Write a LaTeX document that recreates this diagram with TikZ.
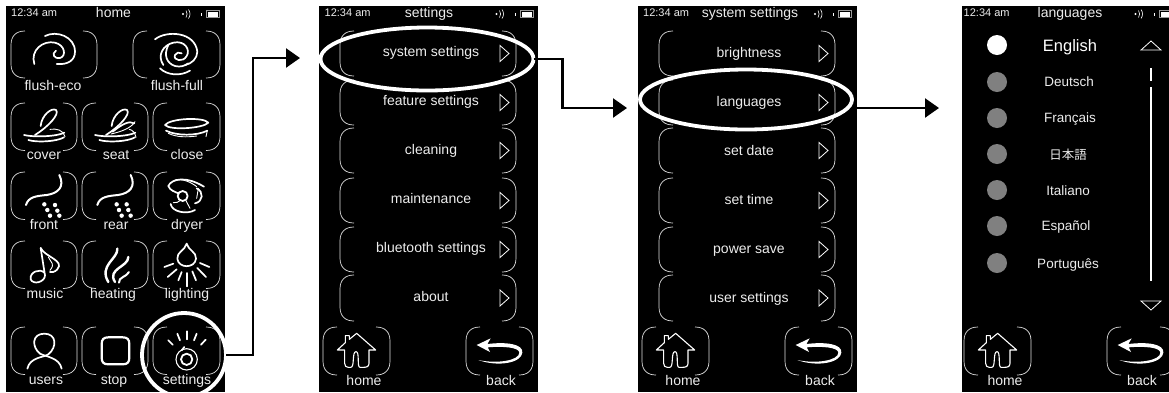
\documentclass[tikz,border=0pt]{standalone}
\usepackage{fontspec}
\setmainfont{Liberation Sans}
\newfontfamily\cjkfont{Noto Sans CJK JP}
\usetikzlibrary{arrows.meta,shapes.geometric}
\definecolor{txt}{HTML}{EDEDED}
\definecolor{dotgray}{HTML}{808080}
\tikzset{
 screen/.style={fill=black,draw=none,inner sep=0,outer sep=0},
 btn/.style={draw=white!88!black,line width=.7pt},
 ico/.style={draw=white,line width=1.7pt,line cap=round,line join=round},
 icothin/.style={draw=white,line width=.9pt,line cap=round,line join=round},
 lab/.style={text=txt,inner sep=0,anchor=base,font=\fontsize{14}{16}\selectfont},
 tim/.style={text=txt,inner sep=0,anchor=base west,font=\fontsize{11}{13}\selectfont},
 eng/.style={text=white,inner sep=0,anchor=base,font=\fontsize{16.5}{18}\selectfont},
 lang/.style={text=txt,inner sep=0,anchor=base,font=\fontsize{13.5}{16}\selectfont},
 ringmark/.style={draw=white,line width=3.8pt,inner sep=0,outer sep=0,ellipse},
 flow/.style={draw=black,line width=2.3pt,-{Triangle[length=14pt,width=19pt]}},
}
\newcommand{\btn}[4]{% x y w h
 \draw[btn] (#1+14,#2) .. controls (#1+5,#2) and (#1,#2+5) .. (#1,#2+14) -- (#1,#2+#4-14) .. controls (#1,#2+#4-5) and (#1+5,#2+#4) .. (#1+14,#2+#4);
 \draw[btn] (#1+#3-14,#2) .. controls (#1+#3-5,#2) and (#1+#3,#2+5) .. (#1+#3,#2+14) -- (#1+#3,#2+#4-14) .. controls (#1+#3,#2+#4-5) and (#1+#3-5,#2+#4) .. (#1+#3-14,#2+#4);
}
\newcommand{\statusbar}[2]{% dx, name
 \node[tim] (#2t) at (#1+11,16.8) {12:34 am};
 \fill[white] (#1+183,14) circle (1.2);
 \draw[white,line width=.6pt] (#1+186,10.5) .. controls (#1+187.5,12.5) and (#1+187.5,15.5) .. (#1+186,17.5);
 \draw[white,line width=.6pt] (#1+188.5,9.5) .. controls (#1+190.5,12) and (#1+190.5,16) .. (#1+188.5,18.5);
 \fill[white] (#1+201.3,13) rectangle (#1+202.3,15.5);
 \draw[white!60!black,line width=.5pt] (#1+206.5,10.5) rectangle (#1+219.5,17.5);
 \fill[white] (#1+208,11.7) rectangle (#1+218,16.5);
}
\newcommand{\tri}[2]{\draw[white,line width=.8pt,line join=miter] (#1,#2-8) -- (#1+9,#2) -- (#1,#2+8) -- cycle;}
\newcommand{\menubtns}[1]{%
 \foreach \ya/\hh in {31/45,80/45,128/45,178/45,227/45,275/46}{
  \btn{340+#1}{\ya}{176}{\hh}
  \tri{500+#1}{\ya+\hh/2}
 }
}
\newcommand{\navbar}[2]{% dx, name
 \btn{323+#1}{327}{67}{48}
 \btn{466+#1}{327}{67}{48}
 \node[lab] (#2h) at (364+#1,385.7) {home};
 \node[lab] (#2b) at (501+#1,385.7) {back};
 \begin{scope}[shift={(310+#1,270)},x=.33333pt,y=-.33333pt]
  \draw[icothin,line width=1.1pt] (104,240) -- (82,240) -- (106,218) -- (106,197) -- (118,197) -- (118,208) -- (140,190) -- (197,240) -- (177,240) -- (177,280) .. controls (177,290) and (170,292) .. (160,292) -- (150,292) .. controls (140,292) and (150,245) .. (138,245) .. controls (125,245) and (135,292) .. (122,292) -- (115,292) .. controls (108,292) and (104,288) .. (104,280) -- cycle;
  \fill[white] (500,225) -- (542,205) -- (532,222) .. controls (590,215) and (640,222) .. (637,248) .. controls (635,278) and (565,292) .. (505,270) .. controls (560,282) and (628,272) .. (628,248) .. controls (628,232) and (580,228) .. (533,232) -- (540,246) -- cycle;
 \end{scope}
}
\begin{document}
\begin{tikzpicture}[x=1pt,y=-1pt]
\useasboundingbox (0,0) rectangle (1169,392);
\clip (0,0) rectangle (1169,392);
\fill[white] (0,0) rectangle (1169,392);
\node[screen,minimum width=219pt,minimum height=386pt] (s1) at (115.5,199) {};
\node[screen,minimum width=219pt,minimum height=386pt] (s2) at (428.5,199) {};
\node[screen,minimum width=219pt,minimum height=386pt] (s3) at (747.5,199) {};
\node[screen,minimum width=219pt,minimum height=386pt] (s4) at (1071.5,199) {};

% ---------- screen 1
\statusbar{0}{a}
\node[lab] (atitle) at (113.5,17.8) {home};
\btn{11}{31}{86}{47}
\btn{133}{31}{87}{47}
\foreach \yy in {103,172,241,327}{
 \btn{11}{\yy}{66}{47.5}
 \btn{82}{\yy}{66}{47.5}
 \btn{153}{\yy}{67}{47.5}
}
\node[lab] (l1) at (53,90.7) {flush-eco};
\node[lab] (l2) at (177,90.7) {flush-full};
\node[lab] (l3) at (44,159.5) {cover};
\node[lab] (l4) at (116,159.5) {seat};
\node[lab] (l5) at (187,159.5) {close};
\node[lab] (l6) at (44,229.7) {front};
\node[lab] (l7) at (116,229.7) {rear};
\node[lab] (l8) at (187,229.7) {dryer};
\node[lab] (l9) at (45,298.7) {music};
\node[lab] (l10) at (113,298.7) {heating};
\node[lab] (l11) at (187,298.7) {lighting};
\node[lab] (l12) at (46,384.7) {users};
\node[lab] (l13) at (114,384.7) {stop};
\node[lab] (l14) at (187,384.7) {settings};

\begin{scope}[x=.33333pt,y=-.33333pt]
 % flush-eco
 \draw[ico] (103,192) .. controls (90,150) and (130,120) .. (165,128) .. controls (195,135) and (200,168) .. (180,174) .. controls (165,178) and (152,162) .. (168,152);
 \draw[ico] (135,108) .. controls (170,90) and (225,110) .. (225,155) .. controls (225,180) and (205,195) .. (170,192);
 % flush-full
 \draw[ico] (465,118) .. controls (500,90) and (585,95) .. (592,155) .. controls (592,175) and (575,192) .. (555,195);
 \draw[ico] (490,195) .. controls (470,165) and (490,135) .. (520,128) .. controls (555,120) and (572,150) .. (560,168) .. controls (550,188) and (518,182) .. (525,165) .. controls (528,158) and (538,155) .. (545,160);
 \draw[ico] (505,135) .. controls (490,165) and (500,190) .. (525,198) .. controls (540,202) and (555,198) .. (565,190);
 \draw[ico] (480,205) .. controls (500,225) and (540,230) .. (570,212);
 % cover
 \draw[ico] (122,378) .. controls (125,345) and (155,322) .. (168,330) .. controls (180,342) and (145,380) .. (105,405);
 \draw[ico] (72,405) .. controls (100,412) and (170,410) .. (193,398);
 \draw[icothin] (150,388) .. controls (170,385) and (190,390) .. (195,410);
 \draw[ico] (85,420) .. controls (110,428) and (170,425) .. (192,412);
 % seat
 \begin{scope}[shift={(213,0)}]
 \draw[ico] (122,378) .. controls (125,345) and (155,322) .. (168,330) .. controls (180,342) and (145,380) .. (105,405);
 \draw[ico] (72,405) .. controls (100,412) and (170,410) .. (193,398);
 \draw[ico] (85,420) .. controls (110,428) and (170,425) .. (192,412);
 \draw[ico] (125,395) .. controls (150,375) and (175,360) .. (190,370);
 \draw[icothin] (120,402) .. controls (150,395) and (180,385) .. (192,365);
 \draw[icothin] (175,388) .. controls (185,390) and (192,398) .. (195,412);
 \end{scope}
 % close
 \draw[ico] (495,375) .. controls (510,355) and (610,350) .. (625,368) .. controls (610,385) and (510,392) .. (495,375);
 \draw[ico] (498,392) .. controls (530,408) and (590,408) .. (622,392);
 \draw[icothin] (622,392) -- (618,410);
 \draw[icothin] (505,400) .. controls (530,412) and (560,412) .. (590,408);
\end{scope}

\begin{scope}[shift={(0,160)},x=.33333pt,y=-.33333pt]
 \foreach \dx/\nn in {0/0,214/1}{
 \begin{scope}[shift={(\dx,0)}]
  \draw[ico,line width=2pt] (178,45) .. controls (195,80) and (175,100) .. (140,105) .. controls (110,108) and (85,110) .. (78,135);
 \end{scope}}
 \foreach \px/\py in {133/133,165/135,142/150,172/152,150/167,178/167,350/133,380/133,357/150,385/150,365/167,392/167}{
  \fill[white] (\px,\py) circle (2.2pt);
 }
 % dryer
 \draw[ico,line width=1.8pt] (548,108) circle (15);
 \draw[ico] (505,78) .. controls (515,55) and (560,48) .. (612,80);
 \draw[icothin] (525,60) .. controls (550,55) and (575,68) .. (590,80);
 \draw[ico] (505,78) .. controls (510,92) and (525,95) .. (535,100);
 \draw[ico] (590,85) .. controls (612,95) and (610,125) .. (585,130);
 \draw[icothin] (595,85) -- (590,115);
 \draw[ico] (512,132) .. controls (515,155) and (560,165) .. (585,150);
 \draw[icothin] (520,128) .. controls (530,130) and (535,125) .. (540,122);
 \draw[icothin] (558,122) -- (570,145);
\end{scope}

\begin{scope}[shift={(0,192)},x=.33333pt,y=-.33333pt]
 % music
 \draw[ico] (122,168) -- (135,250) .. controls (135,270) and (100,280) .. (92,262) .. controls (88,240) and (120,228) .. (133,242);
 \draw[ico] (122,168) .. controls (135,195) and (195,205) .. (172,232) .. controls (165,240) and (155,242) .. (150,240);
 \draw[icothin] (145,195) .. controls (155,215) and (165,215) .. (150,235);
 % heating
 \draw[ico,line width=2.4pt] (352,170) .. controls (355,200) and (295,220) .. (325,270);
 \draw[ico,line width=2.4pt] (385,195) .. controls (385,225) and (320,230) .. (345,270);
 \draw[ico,line width=2pt] (387,240) .. controls (380,255) and (355,255) .. (357,272);
 % lighting
 \draw[ico] (560,155) .. controls (555,175) and (530,180) .. (532,200) .. controls (535,230) and (585,230) .. (588,200) .. controls (590,180) and (565,175) .. (560,155);
 \foreach \xa/\ya/\xb/\yb in {520/215/493/225,530/232/503/255,545/240/535/265,560/243/560/283,577/238/588/265,592/228/618/255,600/213/628/225}{
  \draw[ico] (\xa,\ya) -- (\xb,\yb);
 }
 % users
 \draw[ico] (120,485) .. controls (95,465) and (95,425) .. (133,425) .. controls (170,425) and (172,465) .. (145,487) .. controls (130,497) and (90,495) .. (82,530);
 \draw[ico] (120,485) .. controls (140,495) and (178,497) .. (185,530);
 % stop
 \draw[ico,line width=2.2pt] (325,436) -- (368,436) .. controls (382,436) and (388,442) .. (388,456) -- (388,497) .. controls (388,511) and (382,517) .. (368,517) -- (325,517) .. controls (311,517) and (305,511) .. (305,497) -- (305,456) .. controls (305,442) and (311,436) .. (325,436) -- cycle;
 % settings
 \draw[ico,line width=1.1pt] (560,502) circle (32);
 \draw[ico,line width=1.8pt] (560,502) circle (17);
 \foreach \xa/\ya/\xb/\yb in {505/445/518/458,532/425/540/445,560/418/560/442,590/425/582/445,617/443/603/458,553/465/545/475}{
  \draw[ico] (\xa,\ya) -- (\xb,\yb);
 }
\end{scope}

% ---------- screen 2
\statusbar{313.5}{b}
\node[lab] (btitle) at (429,17.8) {settings};
\menubtns{0}
\node[lab] (b1) at (431,56) {system settings};
\node[lab] (b2) at (431,105) {feature settings};
\node[lab] (b3) at (431,154) {cleaning};
\node[lab] (b4) at (431,203) {maintenance};
\node[lab] (b5) at (431,252) {bluetooth settings};
\node[lab] (b6) at (431,301) {about};
\navbar{0}{b}

% ---------- screen 3
\statusbar{632}{c}
\node[lab] (ctitle) at (750,17.8) {system settings};
\menubtns{319}
\node[lab] (c1) at (749,57) {brightness};
\node[lab] (c2) at (749,106) {languages};
\node[lab] (c3) at (749,155) {set date};
\node[lab] (c4) at (749,204) {set time};
\node[lab] (c5) at (749,253) {power save};
\node[lab] (c6) at (749,302) {user settings};
\navbar{319}{c}

% ---------- screen 4
\statusbar{952.5}{d}
\node[lab] (dtitle) at (1070,17.8) {languages};
\foreach \yy/\nn in {82/2,118/3,154/4,190/5,226/6,263/7}{
 \node[circle,fill=dotgray,minimum size=20pt,inner sep=0] (dot\nn) at (997,\yy) {};
}
\node[circle,fill=white,minimum size=20pt,inner sep=0] (dot1) at (997,45) {};
\node[eng] (d1) at (1070,51.3) {English};
\node[lang] (d2) at (1069,86) {Deutsch};
\node[lang] (d3) at (1070,122.7) {Français};
\node[lang,font=\cjkfont\fontsize{12.5}{14}\selectfont] (d4) at (1068,159) {日本語};
\node[lang] (d5) at (1068,195) {Italiano};
\node[lang] (d6) at (1066,230) {Español};
\node[lang] (d7) at (1068,268) {Português};
\draw[white,line width=.8pt] (1141,50) -- (1151,41) -- (1161,50) -- cycle;
\draw[white,line width=.8pt] (1141,301) -- (1151,310) -- (1161,301) -- cycle;
\fill[white] (1150,68) rectangle (1152.4,81);
\fill[white] (1150.2,87) rectangle (1152,281);
\navbar{641}{d}

% ---------- rings and connectors
\node[ringmark,circle,minimum size=84pt] (ring1) at (184,355) {};
\node[ringmark,minimum width=213pt,minimum height=63pt] (ring2) at (427,59) {};
\node[ringmark,minimum width=212pt,minimum height=60pt] (ring3) at (746,99.5) {};
\coordinate (tip1) at (300,58);
\coordinate (tip2) at (627,108);
\coordinate (tip3) at (939,108);
\draw[flow] (ring1.east) -- ++(27,0) |- (tip1);
\draw[flow] (ring2.east) -- ++(29,0) |- (tip2);
\draw[flow] (ring3.east) ++(5,8.5) -- (tip3);
\end{tikzpicture}
\end{document}
